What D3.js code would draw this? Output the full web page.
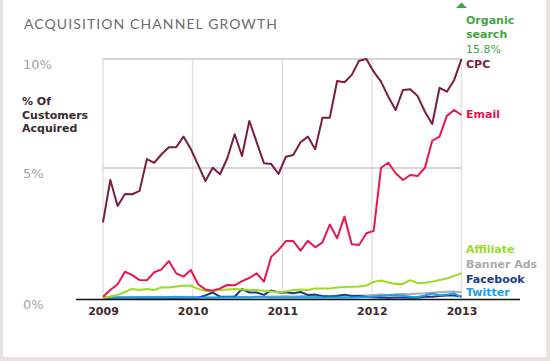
<!DOCTYPE html>
<html>
<head>
<meta charset="utf-8">
<script src="https://cdn.jsdelivr.net/npm/d3@7"></script>
<style>
  html, body { margin: 0; padding: 0; background: #e7e3de; }
  svg { display: block; }
</style>
</head>
<body>
<svg width="550" height="361"></svg>
<script>
// 50 evenly spaced readings, Jan 2009 .. Jan 2013, in % of customers acquired
const startYear = 2009;
const endYear = 2013;
const years = [2009, 2010, 2011, 2012, 2013];
const yTicks = [0, 5, 10];

const cpc = [2.91, 4.54, 3.54, 4.00, 3.99, 4.12, 5.41, 5.24, 5.63, 5.95,
  5.95, 6.44, 5.87, 5.14, 4.50, 5.01, 4.76, 5.46, 6.55, 5.55,
  7.16, 6.19, 5.22, 5.18, 4.77, 5.52, 5.60, 6.18, 6.44, 5.86,
  7.31, 7.31, 8.99, 8.93, 9.27, 9.92, 10.0, 9.42, 8.96, 8.27,
  7.66, 8.58, 8.61, 8.30, 7.58, 7.02, 8.68, 8.50, 9.04, 10.0];

const email = [0.05, 0.31, 0.53, 1.01, 0.88, 0.69, 0.68, 0.99, 1.10, 1.42,
  0.95, 0.82, 1.08, 0.53, 0.33, 0.28, 0.37, 0.50, 0.49, 0.65,
  0.77, 0.95, 0.63, 1.59, 1.85, 2.19, 2.19, 1.82, 2.20, 1.95,
  2.14, 2.83, 2.30, 3.13, 2.07, 2.04, 2.49, 2.58, 5.01, 5.24,
  4.80, 4.54, 4.73, 4.69, 5.01, 6.25, 6.44, 7.39, 7.66, 7.43];

const affiliate = [0.00, 0.06, 0.12, 0.23, 0.35, 0.31, 0.35, 0.31, 0.41, 0.40,
  0.44, 0.47, 0.47, 0.35, 0.27, 0.27, 0.31, 0.33, 0.35, 0.33,
  0.31, 0.31, 0.28, 0.25, 0.22, 0.25, 0.31, 0.33, 0.31, 0.37,
  0.37, 0.37, 0.40, 0.42, 0.43, 0.44, 0.48, 0.62, 0.67, 0.60,
  0.54, 0.54, 0.69, 0.57, 0.59, 0.63, 0.69, 0.75, 0.85, 0.95];

const bannerAds = [0.02, 0.02, 0.03, 0.03, 0.04, 0.03, 0.05, 0.04, 0.05, 0.03,
  0.04, 0.05, 0.04, 0.03, 0.03, 0.02, 0.03, 0.04, 0.05, 0.04,
  0.04, 0.05, 0.05, 0.06, 0.06, 0.07, 0.06, 0.07, 0.08, 0.08,
  0.07, 0.08, 0.09, 0.10, 0.09, 0.10, 0.10, 0.12, 0.13, 0.12,
  0.14, 0.15, 0.14, 0.17, 0.18, 0.20, 0.22, 0.24, 0.25, 0.22];

const facebook = [0.01, 0.01, 0.01, 0.01, 0.01, 0.01, 0.01, 0.01, 0.01, 0.01,
  0.01, 0.01, 0.01, 0.01, 0.10, 0.21, 0.05, 0.05, 0.05, 0.35,
  0.21, 0.21, 0.12, 0.29, 0.21, 0.22, 0.18, 0.23, 0.12, 0.13,
  0.08, 0.06, 0.08, 0.13, 0.08, 0.08, 0.05, 0.03, 0.02, 0.01,
  0.02, 0.02, 0.01, 0.01, 0.05, 0.05, 0.08, 0.10, 0.10, 0.06];

const twitter = [0.01, 0.01, 0.01, 0.01, 0.01, 0.02, 0.02, 0.02, 0.02, 0.03,
  0.05, 0.03, 0.02, 0.02, 0.01, 0.01, 0.02, 0.03, 0.02, 0.03,
  0.02, 0.03, 0.03, 0.02, 0.02, 0.02, 0.02, 0.03, 0.02, 0.03,
  0.02, 0.02, 0.02, 0.02, 0.02, 0.03, 0.04, 0.06, 0.09, 0.11,
  0.12, 0.09, 0.05, 0.04, 0.10, 0.17, 0.11, 0.13, 0.18, 0.03];

const organicLatest = "15.8%";

// draw order: back to front
const series = [
  { name: "Banner Ads", values: bannerAds, color: "#ababab", labelY: 268 },
  { name: "Facebook", values: facebook, color: "#183c8c", labelY: 282.5 },
  { name: "Twitter", values: twitter, color: "#1ba0ea", labelY: 296 },
  { name: "Affiliate", values: affiliate, color: "#9bdc1e", labelY: 252.5 },
  { name: "Email", values: email, color: "#e8174c", labelY: 118 },
  { name: "CPC", values: cpc, color: "#7a1d44", labelY: 68 }
];

const svg = d3.select("svg");

// card
svg.append("rect")
  .attr("x", 3).attr("y", 0)
  .attr("width", 543).attr("height", 357)
  .attr("fill", "#fff");

const x = d3.scaleLinear().domain([startYear, endYear]).range([103, 461.5]);
// the original chart squeezes the upper half a little
const y = d3.scaleLinear().domain([0, 5, 10]).range([298, 168, 59]);

const n = cpc.length;
const t = i => startYear + (endYear - startYear) * i / (n - 1);

// vertical year grid
svg.append("g")
  .selectAll("line")
  .data(years)
  .join("line")
  .attr("x1", d => x(d)).attr("x2", d => x(d))
  .attr("y1", y(10)).attr("y2", y(0))
  .attr("stroke", "#e2e2e2")
  .attr("stroke-width", 1.5);

// horizontal grid (5% and 10%)
svg.append("g")
  .selectAll("line")
  .data([5, 10])
  .join("line")
  .attr("x1", x(startYear)).attr("x2", x(endYear))
  .attr("y1", d => y(d)).attr("y2", d => y(d))
  .attr("stroke", "#c9c9c9")
  .attr("stroke-width", 1.5);

// y tick labels
svg.append("g")
  .selectAll("text")
  .data(yTicks)
  .join("text")
  .attr("x", 23)
  .attr("y", d => y(d) + (d === 0 ? 11 : 9.5))
  .attr("fill", "#a3a3a3")
  .style("font-family", "DejaVu Sans, Verdana, sans-serif")
  .style("font-size", "13px")
  .text(d => d + "%");

// y axis title
svg.append("text")
  .attr("x", 22).attr("y", 105)
  .attr("fill", "#3b2a2e")
  .style("font-family", "DejaVu Sans, Verdana, sans-serif")
  .style("font-size", "11px")
  .style("font-weight", "bold")
  .selectAll("tspan")
  .data(["% Of", "Customers", "Acquired"])
  .join("tspan")
  .attr("x", 22)
  .attr("dy", (d, i) => i === 0 ? 0 : 13.5)
  .text(d => d);

// chart title
svg.append("text")
  .attr("x", 24).attr("y", 29)
  .attr("fill", "#6d6d6d")
  .attr("textLength", 253)
  .attr("lengthAdjust", "spacing")
  .style("font-family", "Lato, DejaVu Sans, sans-serif")
  .style("font-size", "14px")
  .text("ACQUISITION CHANNEL GROWTH");

// lines
const line = d3.line()
  .x((d, i) => x(t(i)))
  .y(d => y(d));

svg.append("g")
  .selectAll("path")
  .data(series)
  .join("path")
  .attr("d", d => line(d.values))
  .attr("fill", "none")
  .attr("stroke", d => d.color)
  .attr("stroke-width", 2)
  .attr("stroke-linejoin", "round");

// baseline
svg.append("line")
  .attr("x1", 76).attr("x2", 520)
  .attr("y1", y(0) + 1.5).attr("y2", y(0) + 1.5)
  .attr("stroke", "#111")
  .attr("stroke-width", 1.5);

// x axis labels
const xAxis = d3.axisBottom(x)
  .tickValues(years)
  .tickFormat(d3.format("d"))
  .tickSize(0)
  .tickPadding(0);

const xg = svg.append("g")
  .attr("transform", `translate(0,${y(0) + 9})`)
  .call(xAxis);
xg.select(".domain").remove();
xg.selectAll("text")
  .attr("dy", "0.71em")
  .attr("fill", "#3b2a2e")
  .style("font-family", "DejaVu Sans, Verdana, sans-serif")
  .style("font-size", "11px")
  .style("font-weight", "bold");

// end labels
svg.append("g")
  .selectAll("text")
  .data(series)
  .join("text")
  .attr("x", 466)
  .attr("y", d => d.labelY)
  .attr("fill", d => d.color)
  .style("font-family", "DejaVu Sans, Verdana, sans-serif")
  .style("font-size", "11px")
  .style("font-weight", "bold")
  .text(d => d.name);

// organic search: off the top of the scale
const organicColor = "#43a447";
svg.append("path")
  .attr("d", `M${x(endYear) - 5.5},8L${x(endYear)},2.5L${x(endYear) + 5.5},8Z`)
  .attr("fill", organicColor);

const org = svg.append("text")
  .attr("fill", organicColor)
  .style("font-family", "DejaVu Sans, Verdana, sans-serif")
  .style("font-size", "11px");
org.append("tspan").attr("x", 466).attr("y", 24)
  .style("font-weight", "bold").text("Organic");
org.append("tspan").attr("x", 466).attr("y", 37.5)
  .style("font-weight", "bold").text("search");
org.append("tspan").attr("x", 466).attr("y", 52.5)
  .text(organicLatest);
</script>
</body>
</html>
